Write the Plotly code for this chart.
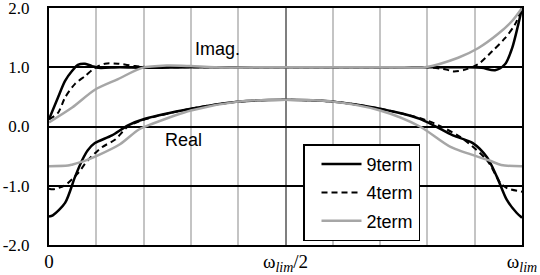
import plotly.graph_objects as go

# ---- data (x normalised: 0 = 0, 0.5 = wlim/2, 1 = wlim) ----
imag9_x = [0, 0.019, 0.034, 0.049, 0.061, 0.076, 0.091, 0.104, 0.15, 0.2, 0.3, 0.4, 0.5, 0.6, 0.7, 0.8, 0.88, 0.915, 0.943, 0.964, 0.979, 0.992, 1.0]
imag9_y = [0.12, 0.49, 0.77, 0.94, 1.04, 1.06, 1.02, 0.99, 1.0, 0.99, 1.0, 1.0, 1.0, 1.0, 1.0, 1.0, 1.0, 0.99, 0.95, 1.05, 1.32, 1.72, 2.0]

imag4_x = [0, 0.019, 0.034, 0.055, 0.076, 0.097, 0.118, 0.146, 0.182, 0.22, 0.3, 0.4, 0.5, 0.6, 0.7, 0.8, 0.84, 0.855, 0.88, 0.907, 0.937, 0.964, 0.985, 1.0]
imag4_y = [0.12, 0.23, 0.49, 0.72, 0.85, 0.99, 1.06, 1.06, 1.02, 1.0, 1.0, 1.0, 1.0, 1.0, 1.0, 1.0, 0.96, 0.93, 0.96, 1.05, 1.27, 1.49, 1.72, 2.0]

imag2_x = [0, 0.049, 0.097, 0.146, 0.197, 0.25, 0.3, 0.35, 0.5, 0.75, 0.795, 0.865, 0.907, 0.949, 0.979, 1.0]
imag2_y = [0.07, 0.32, 0.62, 0.80, 0.99, 1.03, 1.02, 1.0, 1.0, 1.0, 1.0, 1.16, 1.32, 1.56, 1.78, 2.0]

real9_x = [0, 0.008, 0.034, 0.055, 0.07, 0.082, 0.097, 0.133, 0.167, 0.203, 0.3, 0.4, 0.5, 0.6, 0.7, 0.784, 0.854, 0.896, 0.926, 0.947, 0.968, 0.989, 1.0]
real9_y = [-1.52, -1.50, -1.29, -0.85, -0.57, -0.40, -0.28, -0.15, 0.02, 0.13, 0.30, 0.42, 0.45, 0.42, 0.30, 0.13, -0.15, -0.28, -0.52, -0.85, -1.24, -1.46, -1.54]

real4_x = [0, 0.008, 0.034, 0.061, 0.082, 0.112, 0.14, 0.167, 0.203, 0.3, 0.4, 0.5, 0.6, 0.7, 0.8, 0.87, 0.926, 0.954, 0.968, 1.0]
real4_y = [-1.05, -1.06, -0.99, -0.79, -0.57, -0.35, -0.22, 0.0, 0.12, 0.30, 0.42, 0.45, 0.42, 0.30, 0.10, -0.18, -0.57, -0.95, -1.04, -1.10]

real2_x = [0, 0.04, 0.05, 0.075, 0.1, 0.15, 0.19, 0.22, 0.3, 0.4, 0.5, 0.6, 0.7, 0.784, 0.85, 0.93, 0.956, 1.0]
real2_y = [-0.67, -0.66, -0.64, -0.58, -0.50, -0.30, -0.05, 0.05, 0.27, 0.42, 0.45, 0.42, 0.27, 0.0, -0.35, -0.57, -0.65, -0.67]

x_tickvals = [0, 0.5, 1]
x_ticktext = ["0",
              "ω<sub><span style='font-size:14px'><i>lim</i></span></sub>/2",
              "ω<sub><span style='font-size:14px'><i>lim</i></span></sub>"]
y_tickvals = [-2, -1, 0, 1, 2]
y_ticktext = ["-2.0", "-1.0", "0.0", "1.0", "2.0"]

styles = {
    "9term": dict(color="black", width=2.5, dash="solid"),
    "4term": dict(color="black", width=2, dash="6px,4px"),
    "2term": dict(color="#a6a6a6", width=2.5, dash="solid"),
}

fig = go.Figure()
series = [
    ("9term", imag9_x, imag9_y, real9_x, real9_y),
    ("4term", imag4_x, imag4_y, real4_x, real4_y),
    ("2term", imag2_x, imag2_y, real2_x, real2_y),
]
for name, ix, iy, rx, ry in series:
    st = styles[name]
    fig.add_trace(go.Scatter(x=rx, y=ry, mode="lines", name=name, legendgroup=name,
                             line=dict(color=st["color"], width=st["width"], dash=st["dash"], shape="spline", smoothing=0.8)))
    fig.add_trace(go.Scatter(x=ix, y=iy, mode="lines", name=name, legendgroup=name, showlegend=False,
                             line=dict(color=st["color"], width=st["width"], dash=st["dash"], shape="spline", smoothing=0.8)))

fig.add_annotation(x=0.357, y=1.31, text="Imag.", showarrow=False,
                   font=dict(family="Liberation Sans", size=18, color="black"))
fig.add_annotation(x=0.285, y=-0.22, text="Real", showarrow=False,
                   font=dict(family="Liberation Sans", size=18, color="black"))

fig.update_layout(
    width=540, height=275,
    margin=dict(l=49, r=18, t=8, b=30, autoexpand=False),
    paper_bgcolor="white", plot_bgcolor="white",
    showlegend=True,
    legend=dict(x=0.537, y=0.425, xanchor="left", yanchor="top",
                bgcolor="white", bordercolor="black", borderwidth=1.5,
                font=dict(family="Liberation Sans", size=18, color="black"),
                tracegroupgap=2, itemwidth=40, indentation=12,
                entrywidth=116, entrywidthmode="pixels"),
)
fig.update_xaxes(range=[0, 1], tickmode="array", tickvals=x_tickvals, ticktext=x_ticktext,
                 showgrid=True, gridcolor="#7f7f7f", gridwidth=2,
                 minor=dict(dtick=0.1, showgrid=True, gridcolor="#c4c4c4", gridwidth=2),
                 showline=True, linecolor="black", linewidth=2, mirror=True,
                 zeroline=False, ticks="", ticklabelstandoff=-2, automargin=False,
                 ticklabeloverflow="allow",
                 tickfont=dict(family="Liberation Serif", size=19, color="black"))
fig.update_yaxes(range=[-2, 2], tickmode="array", tickvals=y_tickvals, ticktext=y_ticktext,
                 showgrid=True, gridcolor="black", gridwidth=1.5,
                 zeroline=True, zerolinecolor="black", zerolinewidth=1.5,
                 showline=True, linecolor="black", linewidth=2, mirror=True,
                 ticks="", ticklabelstandoff=14, automargin=False,
                 ticklabeloverflow="allow",
                 tickfont=dict(family="Liberation Serif", size=17, color="black"))

fig.write_html("out.html", config={"displayModeBar": False},
               post_script="document.body.style.margin='0';document.body.style.padding='0';")
